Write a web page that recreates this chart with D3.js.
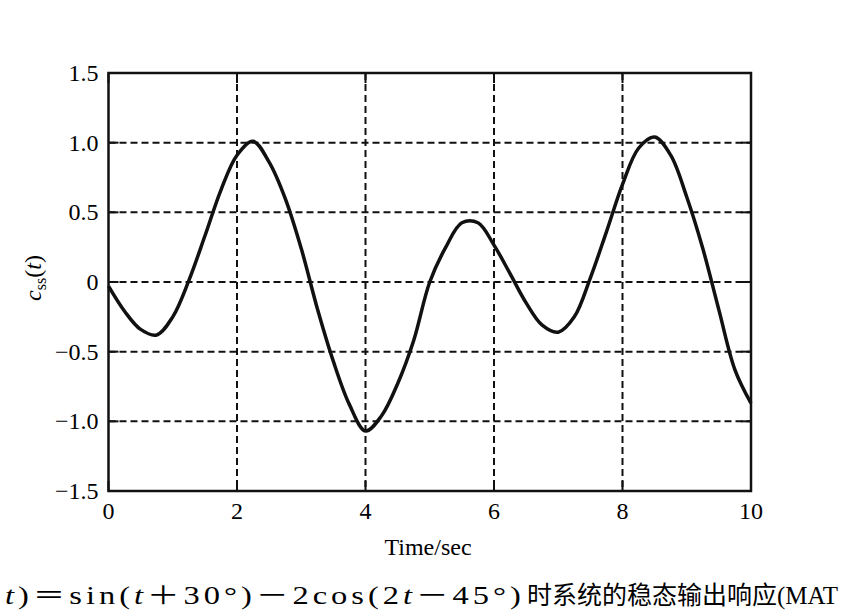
<!DOCTYPE html>
<html lang="en">

<head>
    <meta charset="utf-8">
    <script src="https://d3js.org/d3.v7.min.js"></script>
    <style>
        body { margin: 0; background: #fff; }
    </style>
</head>

<body>
    <div class="chart"></div>

    <script>
        // values, every 0.25 s
        const time = [0, 0.25, 0.5, 0.75, 1.0, 1.25, 1.5, 1.75, 2.0, 2.25, 2.5, 2.75, 3.0, 3.25, 3.5, 3.75,
            4.0, 4.25, 4.5, 4.75, 5.0, 5.25, 5.5, 5.75, 6.0, 6.25, 6.5, 6.75, 7.0, 7.25, 7.5, 7.75,
            8.0, 8.25, 8.5, 8.75, 9.0, 9.25, 9.5, 9.75, 10.0];
        const response = [-0.03, -0.21, -0.34, -0.38, -0.25, 0.01, 0.33, 0.66, 0.91, 1.01, 0.86, 0.60, 0.24, -0.19, -0.57, -0.88,
            -1.07, -0.96, -0.73, -0.42, 0.0, 0.25, 0.425, 0.425, 0.265, 0.06, -0.15, -0.31, -0.36, -0.25, 0.03, 0.36,
            0.70, 0.96, 1.04, 0.91, 0.61, 0.24, -0.20, -0.63, -0.87];
        const xTicks = [0, 2, 4, 6, 8, 10];
        const yTicks = [-1.5, -1.0, -0.5, 0, 0.5, 1.0, 1.5];
        const yTickLabels = ["\u22121.5", "\u22121.0", "\u22120.5", "0", "0.5", "1.0", "1.5"];

        const width = 850;
        const height = 610;
        const plotL = 108.5, plotR = 751, plotT = 73, plotB = 491;
        const serif = "'Liberation Serif', 'Times New Roman', serif";

        const svg = d3.select(".chart").append("svg")
            .attr("width", width)
            .attr("height", height)
            .style("font-family", serif);

        const x = d3.scaleLinear().domain([0, 10]).range([plotL, plotR]);
        const y = d3.scaleLinear().domain([-1.5, 1.5]).range([plotB, plotT]);

        // dashed grid
        const grid = svg.append("g")
            .attr("stroke", "#111")
            .attr("stroke-width", 2)
            .attr("stroke-dasharray", "7,4");
        grid.selectAll(".gx").data(xTicks.slice(1, -1)).enter()
            .append("line")
            .attr("x1", d => x(d)).attr("x2", d => x(d))
            .attr("y1", plotT).attr("y2", plotB);
        grid.selectAll(".gy").data(yTicks.slice(1, -1)).enter()
            .append("line")
            .attr("x1", plotL).attr("x2", plotR)
            .attr("y1", d => y(d)).attr("y2", d => y(d));

        // inward ticks like matlab
        const tl = 10;
        const ticks = svg.append("g").attr("stroke", "#111").attr("stroke-width", 2);
        xTicks.forEach(d => {
            ticks.append("line").attr("x1", x(d)).attr("x2", x(d)).attr("y1", plotB).attr("y2", plotB - tl);
            ticks.append("line").attr("x1", x(d)).attr("x2", x(d)).attr("y1", plotT).attr("y2", plotT + tl);
        });
        yTicks.forEach(d => {
            ticks.append("line").attr("x1", plotL).attr("x2", plotL + tl).attr("y1", y(d)).attr("y2", y(d));
            ticks.append("line").attr("x1", plotR).attr("x2", plotR - tl).attr("y1", y(d)).attr("y2", y(d));
        });

        // frame
        svg.append("rect")
            .attr("x", plotL).attr("y", plotT)
            .attr("width", plotR - plotL).attr("height", plotB - plotT)
            .attr("fill", "none")
            .attr("stroke", "#111")
            .attr("stroke-width", 2.5);

        // the response curve
        const line = d3.line()
            .x((d, i) => x(time[i]))
            .y(d => y(d))
            .curve(d3.curveCatmullRom.alpha(0.5));
        svg.append("path")
            .datum(response)
            .attr("d", line)
            .attr("fill", "none")
            .attr("stroke", "#111")
            .attr("stroke-width", 3.5)
            .attr("stroke-linejoin", "round");

        // tick labels
        svg.append("g").selectAll("text").data(xTicks).enter()
            .append("text")
            .attr("x", d => x(d))
            .attr("y", plotB + 28)
            .attr("text-anchor", "middle")
            .style("font-size", "24px")
            .text(d => d);
        svg.append("g").selectAll("text").data(yTicks).enter()
            .append("text")
            .attr("x", plotL - 10)
            .attr("y", d => y(d) + 8)
            .attr("text-anchor", "end")
            .style("font-size", "24px")
            .text((d, i) => yTickLabels[i]);

        // axis titles
        svg.append("text")
            .attr("x", 428)
            .attr("y", 555)
            .attr("text-anchor", "middle")
            .style("font-size", "24px")
            .text("Time/sec");

        const ylab = svg.append("text")
            .attr("transform", "translate(41,278) rotate(-90)")
            .attr("text-anchor", "middle")
            .style("font-size", "24px");
        ylab.append("tspan").style("font-style", "italic").text("c");
        ylab.append("tspan").attr("dy", 5).style("font-size", "16px").text("ss");
        ylab.append("tspan").attr("dy", -5).text("(");
        ylab.append("tspan").style("font-style", "italic").text("t");
        ylab.append("tspan").text(")");

        // caption: formula part is wide in the scan (a bit stretched, a bit spaced),
        // chinese part runs on to the edge
        const capFont = serif + ", 'Noto Sans CJK SC'";
        const cap = svg.append("text")
            .attr("x", 0)
            .attr("y", 0)
            .style("font-size", "25px")
            .style("font-family", capFont);
        cap.append("tspan").style("font-style", "italic").text("t");
        cap.append("tspan").text(")＝sin(");
        cap.append("tspan").style("font-style", "italic").text("t");
        cap.append("tspan").text("＋30°)－2cos(2");
        cap.append("tspan").style("font-style", "italic").text("t");
        cap.append("tspan").text("－45°)");
        const capW = cap.node().getComputedTextLength();
        const nChars = cap.text().length;
        const stretch = 1.3;
        cap.style("letter-spacing", ((520 / stretch - capW) / nChars) + "px")
            .attr("transform", "translate(5,604) scale(" + stretch + ",1)");

        svg.append("text")
            .attr("x", 527)
            .attr("y", 604)
            .style("font-size", "25px")
            .style("font-family", capFont)
            .text("时系统的稳态输出响应(MAT");
    </script>
</body>

</html>
